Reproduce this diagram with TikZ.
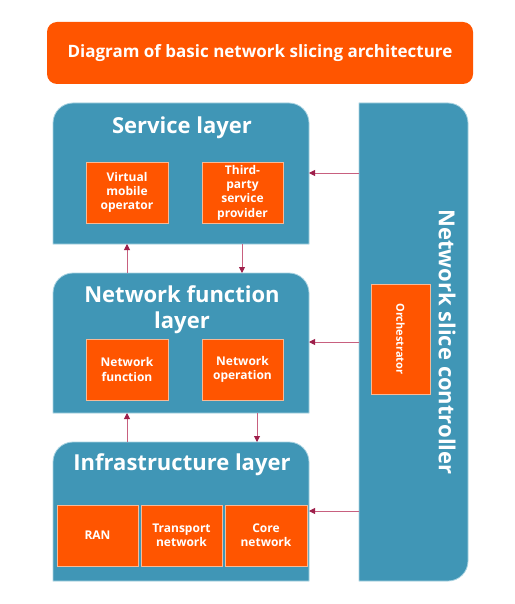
\documentclass[tikz,border=0pt]{standalone}
\usepackage{fontspec}
\setmainfont{Open Sans}
\usetikzlibrary{arrows.meta}
\definecolor{teal}{HTML}{4096B6}
\definecolor{tealedge}{HTML}{A8D2E1}
\definecolor{orng}{HTML}{FF5500}
\definecolor{orngedge}{HTML}{F8B995}
\definecolor{arrline}{HTML}{C8607F}
\definecolor{arrhead}{HTML}{9E1F4A}
\tikzset{
  layerbox/.style={fill=teal, draw=tealedge, line width=0.8pt},
  ghost/.style={inner sep=0pt, outer sep=0pt},
  inbox/.style={fill=orng, draw=orngedge, line width=0.8pt, inner sep=1pt, outer sep=0pt,
     text=white, font=\bfseries\fontsize{12}{14.3}\selectfont, align=center},
  ltitle/.style={text=white, font=\bfseries\fontsize{22}{26}\selectfont, align=center, inner sep=0pt},
  arr/.style={draw=arrline, line width=0.9pt, -{Triangle[length=6pt,width=6pt,color=arrhead]}},
}
\begin{document}
\begin{tikzpicture}[x=1pt,y=-1pt]
\useasboundingbox (0,0) rectangle (514,604);
\fill[white] (0,0) rectangle (514,604);
% title
\node[fill=orng, rounded corners=10pt, minimum width=426pt, minimum height=62pt, ghost,
      text=white, font=\bfseries\fontsize{17}{20}\selectfont] (title) at (260,53)
      {Diagram of basic network slicing architecture};
% layer backgrounds
\path[layerbox] (53,244) -- (53,123) arc[start angle=180,end angle=270,radius=20] -- (289,103)
   arc[start angle=270,end angle=360,radius=20] -- (309,244) -- cycle;
\path[layerbox] (53,413) -- (53,293) arc[start angle=180,end angle=270,radius=20] -- (289,273)
   arc[start angle=270,end angle=360,radius=20] -- (309,413) -- cycle;
\path[layerbox] (53,581) -- (53,462) arc[start angle=180,end angle=270,radius=20] -- (289,442)
   arc[start angle=270,end angle=360,radius=20] -- (309,581) -- cycle;
\path[layerbox] (359,103) -- (448,103) arc[start angle=270,end angle=360,radius=20] -- (468,561)
   arc[start angle=0,end angle=90,radius=20] -- (359,581) -- cycle;
% anchor nodes for the layers
\node[ghost, minimum width=256pt, minimum height=141pt] (svc) at (181,173.5) {};
\node[ghost, minimum width=256pt, minimum height=140pt] (nf) at (181,343) {};
\node[ghost, minimum width=256pt, minimum height=139pt] (inf) at (181,511.5) {};
\node[ghost, minimum width=109pt, minimum height=478pt] (ctrl) at (413.5,342) {};
% titles
\node[ltitle] (svct) at (182,128) {Service layer};
\node[ltitle] (nft) at (182,310) {Network function\\layer};
\node[ltitle] (inft) at (182,465) {Infrastructure layer};
\node[ltitle, rotate=-90] (ctrlt) at (447,342) {Network slice controller};
% inner boxes
\node[inbox, minimum width=82pt, minimum height=61pt] (vmo) at (127,192.5) {Virtual\\mobile\\operator};
\node[inbox, minimum width=81pt, minimum height=61pt] (tpsp) at (242.5,192.5) {Third-\\party\\service\\provider};
\node[inbox, minimum width=82pt, minimum height=61pt] (nfun) at (127,369.5) {Network\\function};
\node[inbox, minimum width=81pt, minimum height=61pt] (nop) at (242.5,369.5) {Network\\operation};
\node[inbox, minimum width=81pt, minimum height=61pt] (ran) at (97.5,535.5) {RAN};
\node[inbox, minimum width=81pt, minimum height=61pt] (trn) at (181.5,535.5) {Transport\\network};
\node[inbox, minimum width=82pt, minimum height=61pt] (core) at (266,535.5) {Core\\network};
\node[inbox, minimum width=59pt, minimum height=110pt] (orch) at (400.5,339) {};
\node[text=white, font=\bfseries\fontsize{11}{13}\selectfont, rotate=-90, inner sep=0pt] (orcht) at (orch.center) {Orchestrator};
% connectors between layers
\draw[arr] ([xshift=-54pt]nf.north) -- ([xshift=-54pt]svc.south);
\draw[arr] ([xshift=61pt]svc.south) -- ([xshift=61pt]nf.north);
\draw[arr] ([xshift=-54pt]inf.north) -- ([xshift=-54pt]nf.south);
\draw[arr] ([xshift=76pt]nf.south) -- ([xshift=76pt]inf.north);
% connectors from the controller
\draw[arr] (ctrl.west |- 0,173) -- (svc.east |- 0,173);
\draw[arr] (ctrl.west |- 0,342) -- (nf.east |- 0,342);
\draw[arr] (ctrl.west |- 0,511) -- (inf.east |- 0,511);
\end{tikzpicture}
\end{document}
